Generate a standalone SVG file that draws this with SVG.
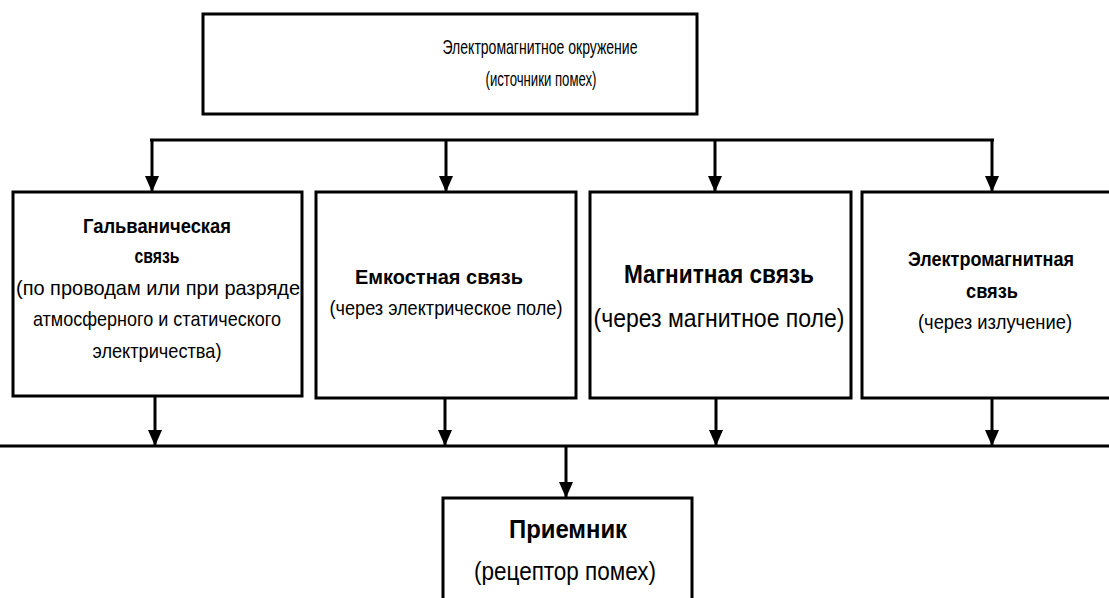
<svg xmlns="http://www.w3.org/2000/svg" width="1109" height="598" viewBox="0 0 1109 598">
<style>
.box{fill:#fff;stroke:#000;stroke-width:3}
.ln{fill:none;stroke:#000;stroke-width:3}
text{font-family:"Liberation Sans Narrow","Liberation Sans",Arial,sans-serif;fill:#000;text-anchor:middle}
.n{font-size:21px}
.b{font-size:21px;font-weight:bold}
.L{font-size:26px}
.Lb{font-size:26px;font-weight:bold}
</style>
<defs>
<marker id="ah" markerUnits="userSpaceOnUse" markerWidth="16" markerHeight="14" refX="15" refY="7" orient="auto" viewBox="0 0 16 14">
<polygon points="0,0 16,7 0,14" fill="#000"/>
</marker>
</defs>
<rect width="1109" height="598" fill="#fff"/>
<g id="connectors">
<line class="ln" x1="150" y1="140" x2="994" y2="140"/>
<line class="ln" x1="152" y1="140" x2="152" y2="191" marker-end="url(#ah)"/>
<line class="ln" x1="446" y1="140" x2="446" y2="191" marker-end="url(#ah)"/>
<line class="ln" x1="715" y1="140" x2="715" y2="191" marker-end="url(#ah)"/>
<line class="ln" x1="992" y1="140" x2="992" y2="191" marker-end="url(#ah)"/>
<line class="ln" x1="155" y1="397" x2="155" y2="445" marker-end="url(#ah)"/>
<line class="ln" x1="445" y1="398" x2="445" y2="445" marker-end="url(#ah)"/>
<line class="ln" x1="716" y1="398" x2="716" y2="445" marker-end="url(#ah)"/>
<line class="ln" x1="992" y1="398" x2="992" y2="445" marker-end="url(#ah)"/>
<line class="ln" x1="0" y1="446" x2="1109" y2="446"/>
<line class="ln" x1="566" y1="446" x2="566" y2="497" marker-end="url(#ah)"/>
</g>
<g id="source">
<rect class="box" x="203" y="14" width="494" height="100"/>
<text class="n" x="540" y="54" textLength="195" lengthAdjust="spacingAndGlyphs">Электромагнитное окружение</text>
<text class="n" x="541" y="86" textLength="111" lengthAdjust="spacingAndGlyphs">(источники помех)</text>
</g>
<g id="galvanic">
<rect class="box" x="13" y="192" width="289" height="204"/>
<text class="b" x="157" y="233" textLength="148" lengthAdjust="spacingAndGlyphs">Гальваническая</text>
<text class="b" x="157" y="263" textLength="45" lengthAdjust="spacingAndGlyphs">связь</text>
<text class="n" x="158" y="295" textLength="284" lengthAdjust="spacingAndGlyphs">(по проводам или при разряде</text>
<text class="n" x="157" y="326" textLength="248" lengthAdjust="spacingAndGlyphs">атмосферного и статического</text>
<text class="n" x="157" y="358" textLength="129" lengthAdjust="spacingAndGlyphs">электричества)</text>
</g>
<g id="capacitive">
<rect class="box" x="316" y="192" width="260" height="206"/>
<text class="b" x="439" y="284" textLength="168" lengthAdjust="spacingAndGlyphs">Емкостная связь</text>
<text class="n" x="446" y="315" textLength="233" lengthAdjust="spacingAndGlyphs">(через электрическое поле)</text>
</g>
<g id="magnetic">
<rect class="box" x="590" y="192" width="261" height="206"/>
<text class="Lb" x="719" y="283" textLength="190" lengthAdjust="spacingAndGlyphs">Магнитная связь</text>
<text class="L" x="719" y="327" textLength="251" lengthAdjust="spacingAndGlyphs">(через магнитное поле)</text>
</g>
<g id="electromagnetic">
<rect class="box" x="862" y="192" width="252" height="206"/>
<text class="b" x="991" y="266" textLength="166" lengthAdjust="spacingAndGlyphs">Электромагнитная</text>
<text class="b" x="992" y="298" textLength="52" lengthAdjust="spacingAndGlyphs">связь</text>
<text class="n" x="995" y="329" textLength="154" lengthAdjust="spacingAndGlyphs">(через излучение)</text>
</g>
<g id="receiver">
<rect class="box" x="443" y="498" width="249" height="106"/>
<text class="Lb" x="568" y="538" textLength="118" lengthAdjust="spacingAndGlyphs">Приемник</text>
<text class="L" x="565" y="580" textLength="182" lengthAdjust="spacingAndGlyphs">(рецептор помех)</text>
</g>
</svg>
